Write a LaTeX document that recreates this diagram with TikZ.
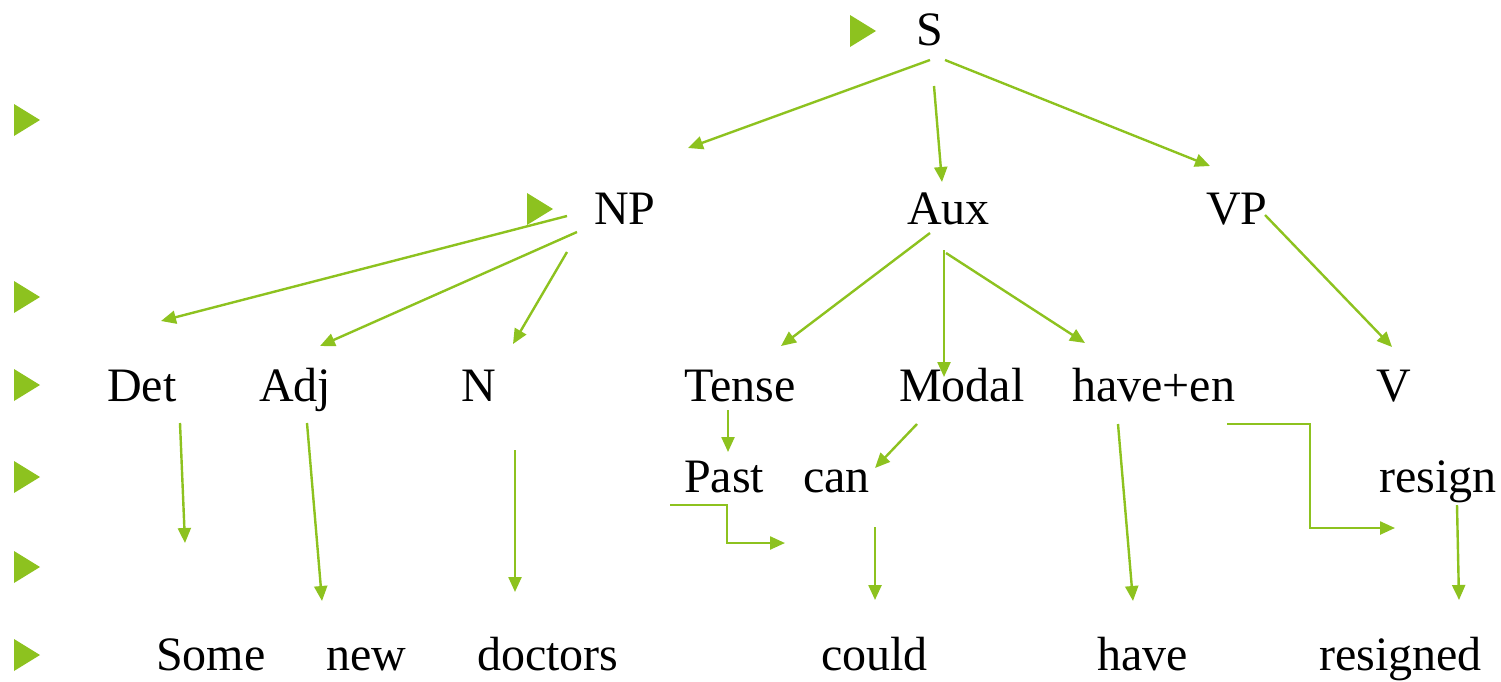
\documentclass[tikz,border=0pt]{standalone}
\usepackage{fontspec}
\setmainfont{Liberation Serif}
\usetikzlibrary{arrows.meta}
\definecolor{lime}{RGB}{141,194,31}
\tikzset{
  lbl/.style={anchor=base west, inner sep=0pt, font=\fontsize{48}{50}\selectfont},
  arr/.style={draw=lime, line width=2.4pt, -{Triangle[length=15pt,width=13pt]}},
  elb/.style={draw=lime, line width=2.4pt, -{Triangle[length=15pt,width=13pt]}},
  bul/.style={fill=lime}
}
\begin{document}
\begin{tikzpicture}[x=1pt,y=-1pt]
\useasboundingbox (0,0) rectangle (1501,681);
% bullets
\foreach \yy in {120,297,385,477,567,655}{
  \fill[bul] (14,\yy-16) -- (40,\yy) -- (14,\yy+16) -- cycle;
}
\fill[bul] (850,15) -- (876,31) -- (850,47) -- cycle;
\fill[bul] (527,193) -- (553,209) -- (527,225) -- cycle;
% labels
\node[lbl] (S) at (916,45) {S};
\node[lbl] (NP) at (594,224) {NP};
\node[lbl] (Aux) at (907,224) {Aux};
\node[lbl] (VP) at (1206,224) {VP};
\node[lbl] (Det) at (107,401) {Det};
\node[lbl] (Adj) at (259,401) {Adj};
\node[lbl] (N) at (461,401) {N};
\node[lbl] (Tense) at (684,401) {Tense};
\node[lbl] (Modal) at (899,401) {Modal};
\node[lbl] (haveen) at (1072,401) {have+en};
\node[lbl] (V) at (1376,401) {V};
\node[lbl] (Past) at (684,492) {Past};
\node[lbl] (can) at (803,492) {can};
\node[lbl] (resign) at (1379,492) {resign};
\node[lbl] (Some) at (156,670) {Some};
\node[lbl] (new) at (326,670) {new};
\node[lbl] (doctors) at (477,670) {doctors};
\node[lbl] (could) at (821,670) {could};
\node[lbl] (have) at (1097,670) {have};
\node[lbl] (resigned) at (1319,670) {resigned};
% connector end points
\coordinate (s1) at (930,60);  \coordinate (np1) at (688,148);
\coordinate (s2) at (934,86);  \coordinate (aux1) at (942,182);
\coordinate (s3) at (945,60);  \coordinate (vp1) at (1210,166);
\coordinate (np2) at (567,216); \coordinate (det1) at (161,321);
\coordinate (np3) at (577,232); \coordinate (adj1) at (320,346);
\coordinate (np4) at (567,252); \coordinate (n1) at (513,344);
\coordinate (aux2) at (930,233); \coordinate (ten1) at (781,346);
\coordinate (aux3) at (944,250); \coordinate (mod1) at (944,377);
\coordinate (aux4) at (946,253); \coordinate (hav1) at (1085,343);
\coordinate (vp2) at (1265,215); \coordinate (v1) at (1392,347);
\coordinate (det2) at (180,423); \coordinate (some1) at (185,543);
\coordinate (adj2) at (307,423); \coordinate (new1) at (322,601);
\coordinate (n2) at (515,450); \coordinate (doc1) at (515,592);
\coordinate (ten2) at (728,410); \coordinate (past1) at (728,452);
\coordinate (mod2) at (917,424); \coordinate (can1) at (875,468);
\coordinate (past2) at (670,505); \coordinate (past3) at (785,543);
\coordinate (can2) at (875,527); \coordinate (could1) at (875,600);
\coordinate (hav2) at (1118,424); \coordinate (have1) at (1133,601);
\coordinate (hav3) at (1227,424); \coordinate (res1) at (1395,528);
\coordinate (res2) at (1457,505); \coordinate (resd1) at (1459,600);
% connectors
\draw[arr] (s1) -- (np1);
\draw[arr] (s2) -- (aux1);
\draw[arr] (s3) -- (vp1);
\draw[arr] (np2) -- (det1);
\draw[arr] (np3) -- (adj1);
\draw[arr] (np4) -- (n1);
\draw[arr] (aux2) -- (ten1);
\draw[arr] (aux3) -- (mod1);
\draw[arr] (aux4) -- (hav1);
\draw[arr] (vp2) -- (v1);
\draw[arr] (det2) -- (some1);
\draw[arr] (adj2) -- (new1);
\draw[arr] (n2) -- (doc1);
\draw[arr] (ten2) -- (past1);
\draw[arr] (mod2) -- (can1);
\draw[elb] (past2) -- (727,505) -- (727,543) -- (past3);
\draw[arr] (can2) -- (could1);
\draw[arr] (hav2) -- (have1);
\draw[elb] (hav3) -- (1310,424) -- (1310,528) -- (res1);
\draw[arr] (res2) -- (resd1);
\end{tikzpicture}
\end{document}
